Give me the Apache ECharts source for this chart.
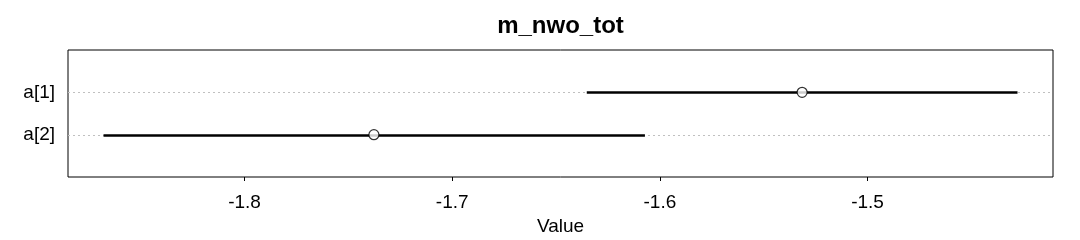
<!DOCTYPE html>
<html>
<head>
<meta charset="utf-8">
<script src="https://cdn.jsdelivr.net/npm/echarts@6/dist/echarts.min.js"></script>
<style>html,body{margin:0;padding:0;background:#fff;}#c{width:1080px;height:240px;}</style>
</head>
<body>
<div id="c"></div>
<script>
var labels = ['a[1]', 'a[2]'];
var lower = [-1.6352, -1.8679];
var upper = [-1.4278, -1.6072];
var mid = [-1.5315, -1.7377];
var xTicks = [-1.8, -1.7, -1.6, -1.5];
var xRange = [-1.885, -1.4107];

var FONT = "'Liberation Sans', Arial, sans-serif";
var rows = labels.map(function (l, i) { return i + 1; });

var chart = echarts.init(document.getElementById('c'), null, {renderer: 'canvas'});
chart.setOption({
  animation: false,
  backgroundColor: '#fff',
  graphic: [{
    type: 'text', x: 560.5, y: 26,
    style: {text: 'm_nwo_tot', fontFamily: FONT, fontSize: 24, fontWeight: 'bold', fill: '#000',
      align: 'center', verticalAlign: 'middle'}
  }],
  grid: {left: 68, right: 27, top: 50, bottom: 63, show: true, borderColor: '#000', borderWidth: 1,
    backgroundColor: 'transparent', outerBoundsMode: 'none', containLabel: false},
  xAxis: {
    type: 'value', min: xRange[0], max: xRange[1],
    name: 'Value', nameLocation: 'middle', nameGap: 40,
    nameTextStyle: {fontFamily: FONT, fontSize: 19, color: '#000'},
    axisLine: {show: false, onZero: false},
    axisTick: {show: true, length: 4, lineStyle: {color: '#000'}, customValues: xTicks},
    axisLabel: {fontFamily: FONT, fontSize: 19, color: '#000', margin: 16, customValues: xTicks,
      formatter: function (v) { return String(Math.round(v * 10) / 10); }},
    splitLine: {show: false}
  },
  yAxis: {
    type: 'value', min: 0, max: 3, inverse: true,
    axisLine: {show: false, onZero: false}, axisTick: {show: false},
    axisLabel: {fontFamily: FONT, fontSize: 19, color: '#000', margin: 13, customValues: rows,
      formatter: function (v) { return labels[Math.round(v) - 1] || ''; }},
    splitLine: {show: false}
  },
  series: [
    {
      type: 'custom', z: 3,
      data: labels.map(function (l, i) { return [lower[i], upper[i], i + 1]; }),
      renderItem: function (params, api) {
        var cs = params.coordSys;
        var a = api.coord([api.value(0), api.value(2)]);
        var b = api.coord([api.value(1), api.value(2)]);
        var yy = Math.round(a[1]) + 0.5;
        return {type: 'group', children: [
          {type: 'line', z2: 1, shape: {x1: cs.x, y1: yy, x2: cs.x + cs.width, y2: yy},
            style: {stroke: '#c0c0c0', lineWidth: 1, lineDash: [2, 3]}},
          {type: 'line', z2: 2, shape: {x1: a[0], y1: yy, x2: b[0], y2: yy},
            style: {stroke: '#000', lineWidth: 2.4}}
        ]};
      }
    },
    {
      type: 'scatter', z: 4, symbol: 'circle', symbolSize: 10,
      itemStyle: {color: '#fff', borderColor: '#000', borderWidth: 1.2},
      data: mid.map(function (m, i) { return [m, i + 1]; })
    }
  ]
});
</script>
</body>
</html>
